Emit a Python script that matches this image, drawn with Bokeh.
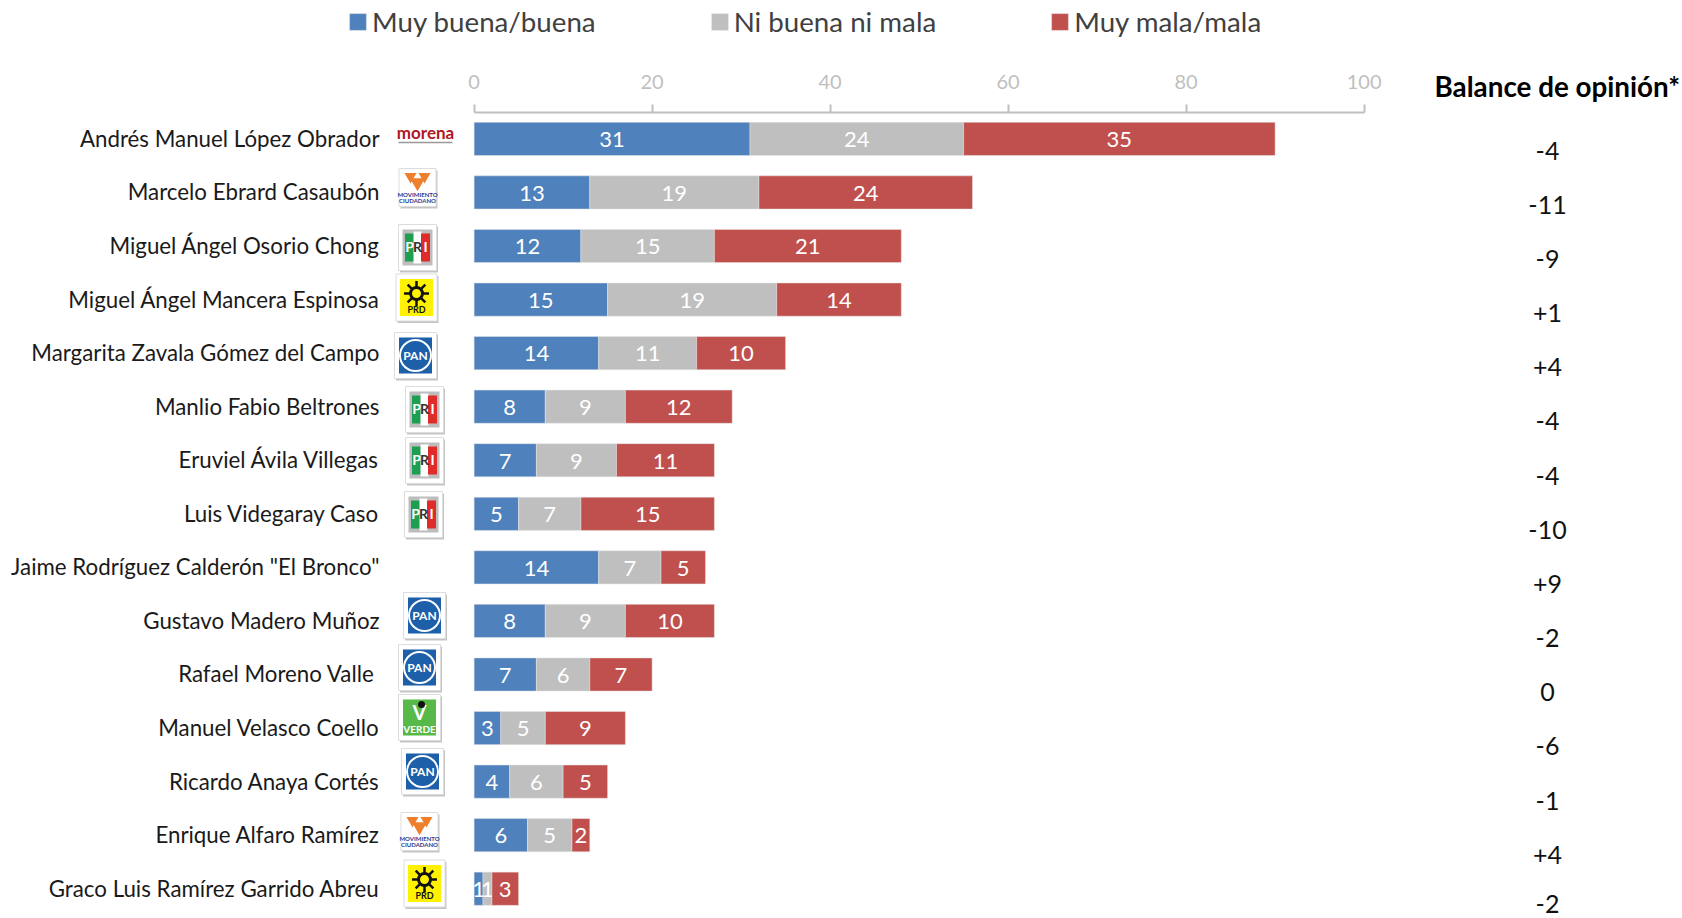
from bokeh.plotting import figure
from bokeh.models import ColumnDataSource, Range1d, Legend, LegendItem, FixedTicker
from bokeh.core.properties import value
from bokeh.embed import file_html
from bokeh.resources import INLINE

candidates = ["Andrés Manuel López Obrador", "Marcelo Ebrard Casaubón", "Miguel Ángel Osorio Chong",
              "Miguel Ángel Mancera Espinosa", "Margarita Zavala Gómez del Campo", "Manlio Fabio Beltrones",
              "Eruviel Ávila Villegas", "Luis Videgaray Caso", 'Jaime Rodríguez Calderón "El Bronco"',
              "Gustavo Madero Muñoz", "Rafael Moreno Valle", "Manuel Velasco Coello", "Ricardo Anaya Cortés",
              "Enrique Alfaro Ramírez", "Graco Luis Ramírez Garrido Abreu"]
buena = [31, 13, 12, 15, 14, 8, 7, 5, 14, 8, 7, 3, 4, 6, 1]
ni = [24, 19, 15, 19, 11, 9, 9, 7, 7, 9, 6, 5, 6, 5, 1]
mala = [35, 24, 21, 14, 10, 12, 11, 15, 5, 10, 7, 9, 5, 2, 3]
balance = ["-4", "-11", "-9", "+1", "+4", "-4", "-4", "-10", "+9", "-2", "0", "-6", "-1", "+4", "-2"]
series_names = ["Muy buena/buena", "Ni buena ni mala", "Muy mala/mala"]
colors = ["#4F81BD", "#BFBFBF", "#C0504D"]
ticks = [0, 20, 40, 60, 80, 100]
parties = ["morena", "MC", "PRI", "PRD", "PAN", "PRI", "PRI", "PRI", None, "PAN", "PAN", "VERDE", "PAN", "MC", "PRD"]

FONT = "Lato"
W, H = 1682, 918
X0, PX = 473.6, 8.9          # page x of value 0, px per unit
Y0, PY = 138.4, 53.56        # page y of row 0, px per row
AXIS_Y = 111.5

def dx(px): return (px - X0) / PX
def dy(py): return (py - Y0) / PY

p = figure(width=W, height=H, output_backend="svg", toolbar_location=None,
           x_range=Range1d(dx(0), dx(W)), y_range=Range1d(dy(H), dy(0)),
           x_axis_location="above", y_axis_location=None,
           min_border_left=0, min_border_right=0, min_border_bottom=0, min_border_top=0,
           outline_line_color=None, background_fill_color="white")
p.grid.visible = False

ax = p.xaxis[0]
ax.fixed_location = dy(AXIS_Y)
ax.bounds = (0, 100)
ax.ticker = FixedTicker(ticks=ticks)
ax.axis_line_color = "#BFBFBF"
ax.axis_line_width = 2
ax.major_tick_line_color = "#BFBFBF"
ax.major_tick_line_width = 2
ax.major_tick_out = 8
ax.major_tick_in = 0
ax.minor_tick_line_color = None
ax.major_label_text_color = "#BFBFBF"
ax.major_label_text_font = FONT
ax.major_label_text_font_size = "20px"
ax.major_label_standoff = 15

rows = list(range(len(candidates)))
src = ColumnDataSource(dict(y=rows, a=buena, b=ni, c=mala, name=candidates, bal=balance,
                            l0=[0] * 15,
                            l1=buena,
                            l2=[u + v for u, v in zip(buena, ni)],
                            l3=[u + v + w for u, v, w in zip(buena, ni, mala)]))
items = []
for i, (l, r) in enumerate([("l0", "l1"), ("l1", "l2"), ("l2", "l3")]):
    g = p.hbar(y="y", left=l, right=r, height=0.62, source=src, fill_color=colors[i],
               line_color="#E6E6E6", line_width=0.5)
    items.append(LegendItem(label=series_names[i], renderers=[g]))
    cd = ColumnDataSource(dict(x=[(u + v) / 2 for u, v in zip(src.data[l], src.data[r])], y=[k + 0.015 for k in rows],
                               t=[str(v) for v in (buena, ni, mala)[i]]))
    p.text("x", "y", text="t", source=cd, text_color="#FFFFFF", text_align="center", text_baseline="middle",
           text_font=value(FONT), text_font_size="22px")

p.text(x=[dx(374 if c == "Rafael Moreno Valle" else 379) for c in candidates], y=[k - 0.01 for k in rows],
       text=candidates, text_align="right", text_baseline="middle",
       text_color="#1A1A1A", text_font=value(FONT), text_font_size="22.3px")

p.text(x=[dx(1547)] * 15, y=[dy(min(150 + k * 54.17, 903)) for k in rows], text=balance,
       text_align="center", text_baseline="middle", text_color="#111111",
       text_font=value(FONT), text_font_size="25px")

p.text(x=[dx(1434)], y=[dy(85.5)], text=["Balance de opinión*"], text_align="left", text_baseline="middle",
       text_font=value(FONT), text_font_size="27.8px", text_font_style="bold", text_color="#000000")

# Party logos
def box(cx, cy, w, h):
    p.rect([dx(cx + 1.5)], [dy(cy + 2)], width=w, height=h, width_units="screen", height_units="screen",
           fill_color="#B5B5B5", line_color=None, fill_alpha=0.8)
    p.rect([dx(cx)], [dy(cy)], width=w, height=h, width_units="screen", height_units="screen",
           fill_color="#FFFFFF", line_color="#DDDDDD", line_width=1)

def inner(cx, cy, w, h, c):
    p.rect([dx(cx)], [dy(cy)], width=w, height=h, width_units="screen", height_units="screen",
           fill_color=c, line_color=None)

def tx(cx, cy, s, c, size, style="bold"):
    p.text([dx(cx)], [dy(cy)], text=[s], text_color=c, text_align="center", text_baseline="middle",
           text_font=value(FONT), text_font_size=size, text_font_style=style)

def logo(kind, cx, cy):
    if kind == "morena":
        tx(cx, cy - 2, "morena", "#B0171F", "17px")
        inner(cx, cy + 8, 54, 1.5, "#999999")
    elif kind == "MC":
        box(cx, cy, 37, 38)
        p.scatter([dx(cx - 7), dx(cx + 7)], [dy(cy - 11)] * 2, marker="inverted_triangle", size=12, fill_color="#EE7F2D", line_color=None)
        p.scatter([dx(cx)], [dy(cy - 5)], marker="inverted_triangle", size=15, fill_color="#EE7F2D", line_color=None)
        tx(cx, cy + 7, "MOVIMIENTO", "#2A3A8C", "6px")
        tx(cx, cy + 13, "CIUDADANO", "#2A3A8C", "6px")
    elif kind == "PRI":
        box(cx, cy, 38, 46)
        inner(cx, cy, 30, 36, "#BDBDBD")
        inner(cx - 8, cy, 9, 28, "#1E9E50")
        inner(cx, cy, 8, 32, "#FFFFFF")
        inner(cx + 8, cy, 9, 28, "#E02B2B")
        tx(cx - 8, cy - 1, "P", "#FFFFFF", "14px")
        tx(cx, cy - 1, "R", "#333333", "14px")
        tx(cx + 8, cy - 1, "I", "#FFFFFF", "14px")
    elif kind == "PRD":
        box(cx, cy, 41, 47)
        inner(cx, cy, 33, 37, "#FFF200")
        p.scatter([dx(cx)], [dy(cy - 4)], marker="asterisk", size=25, line_color="#111111", line_width=2.5)
        p.scatter([dx(cx)], [dy(cy - 4)], marker="circle", size=12, fill_color="#FFF200", line_color="#111111", line_width=3)
        tx(cx, cy + 12, "PRD", "#111111", "9px")
    elif kind == "PAN":
        box(cx, cy, 42, 46)
        inner(cx, cy, 33, 36, "#1D5FA8")
        p.scatter([dx(cx)], [dy(cy)], marker="circle", size=31, fill_color=None, line_color="#FFFFFF", line_width=2)
        tx(cx, cy, "PAN", "#FFFFFF", "12px")
    elif kind == "VERDE":
        box(cx, cy, 42, 46)
        inner(cx, cy, 33, 36, "#57B947")
        tx(cx, cy - 6, "V", "#FFFFFF", "20px")
        p.scatter([dx(cx + 2)], [dy(cy - 13)], marker="circle", size=7, fill_color="#111111", line_color=None)
        tx(cx, cy + 11, "VERDE", "#FFFFFF", "10px")

logo_xy = [(425, 134), (417, 187), (417, 247), (416, 297), (415, 355), (424, 409), (424, 460), (423, 514),
           None, (424, 615), (419, 667), (419, 717), (422, 771), (419, 831), (424, 883)]
for kind, pos in zip(parties, logo_xy):
    if kind:
        logo(kind, *pos)

legend = Legend(items=items, orientation="horizontal", location=(347, H - 38),
                border_line_color=None, background_fill_alpha=0, padding=0, margin=0, spacing=113,
                label_text_font=FONT, label_text_font_size="27.7px", label_text_color="#404040",
                glyph_width=21, glyph_height=21, label_standoff=4)
p.add_layout(legend)

open("out.html", "w").write(file_html(p, INLINE))
